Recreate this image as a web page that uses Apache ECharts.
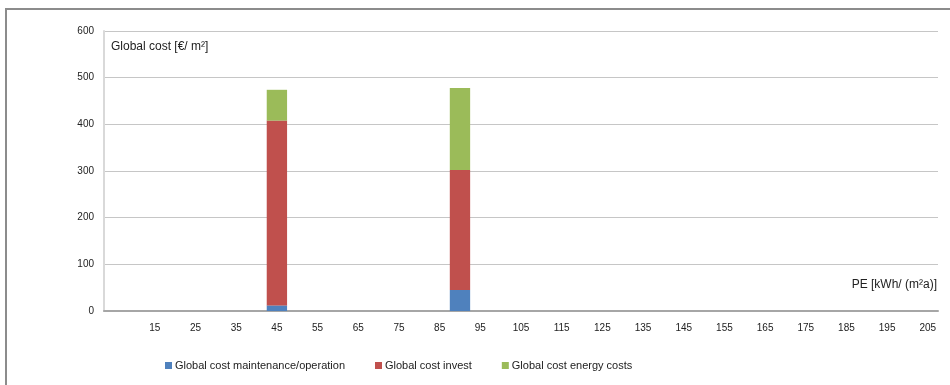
<!DOCTYPE html>
<html>
<head>
<meta charset="utf-8">
<script src="https://cdn.jsdelivr.net/npm/echarts@6/dist/echarts.min.js"></script>
<style>
html,body{margin:0;padding:0;background:#fff;}
#chart{width:950px;height:385px;}
</style>
</head>
<body>
<div id="chart"></div>
<script>
// x-axis categories (PE kWh/(m²a)), step 5
const categories = ['5','10','15','20','25','30','35','40','45','50','55','60','65','70','75','80','85','90','95','100','105','110','115','120','125','130','135','140','145','150','155','160','165','170','175','180','185','190','195','200','205'];
// categories that carry a bar
const barCategories = ['45', '90'];
const maintenance = [12, 45];
const invest = [396, 257];
const energy = [66, 176];
const seriesNames = ['Global cost maintenance/operation', 'Global cost invest', 'Global cost energy costs'];
const yTicks = [0, 100, 200, 300, 400, 500, 600];

function expand(vals) {
  return categories.map(c => {
    const i = barCategories.indexOf(c);
    return i >= 0 ? vals[i] : null;
  });
}

const font = 'Liberation Sans, Arial, sans-serif';
const chart = echarts.init(document.getElementById('chart'));
chart.setOption({
  animation: false,
  backgroundColor: '#ffffff',
  grid: { left: 104, right: 12, top: 31, bottom: 74 },
  xAxis: {
    type: 'category',
    data: categories,
    boundaryGap: true,
    axisLine: { lineStyle: { color: '#a6a6a6', width: 2 } },
    axisTick: { show: false },
    axisLabel: {
      interval: 0,
      formatter: (v, idx) => (idx % 2 === 0 && idx > 0) ? v : '',
      color: '#222', fontSize: 10, fontFamily: font, margin: 12
    },
    splitLine: { show: false }
  },
  yAxis: {
    type: 'value',
    min: yTicks[0], max: yTicks[yTicks.length - 1], interval: 100,
    axisLine: { show: true, lineStyle: { color: '#d9d9d9', width: 2 } },
    axisTick: { show: false },
    axisLabel: { color: '#222', fontSize: 10, fontFamily: font, margin: 10 },
    splitLine: { lineStyle: { color: '#c6c6c6', width: 1 } }
  },
  legend: {
    left: 160, top: 355,
    itemWidth: 7, itemHeight: 7, itemGap: 30,
    icon: 'rect',
    textStyle: { fontSize: 11, fontFamily: font, color: '#222', padding: [0, 0, 0, -2] },
    data: seriesNames
  },
  series: [
    { name: seriesNames[0], type: 'bar', stack: 'total', data: expand(maintenance), itemStyle: { color: '#4f81bd' }, barCategoryGap: '0%' },
    { name: seriesNames[1], type: 'bar', stack: 'total', data: expand(invest), itemStyle: { color: '#c0504d' }, barCategoryGap: '0%' },
    { name: seriesNames[2], type: 'bar', stack: 'total', data: expand(energy), itemStyle: { color: '#9bbb59' }, barCategoryGap: '0%' }
  ],
  graphic: [
    { type: 'line', shape: { x1: 5, y1: 9, x2: 950, y2: 9 }, style: { stroke: '#8c8c8c', lineWidth: 2 } },
    { type: 'line', shape: { x1: 6, y1: 9, x2: 6, y2: 385 }, style: { stroke: '#8c8c8c', lineWidth: 2 } },
    { type: 'text', left: 111, top: 41, style: { text: 'Global cost [€/ m²]', fontSize: 12, fontFamily: font, fill: '#222' } },
    { type: 'text', right: 13, top: 279, style: { text: 'PE [kWh/ (m²a)]', fontSize: 12, fontFamily: font, fill: '#222' } }
  ]
});
</script>
</body>
</html>
